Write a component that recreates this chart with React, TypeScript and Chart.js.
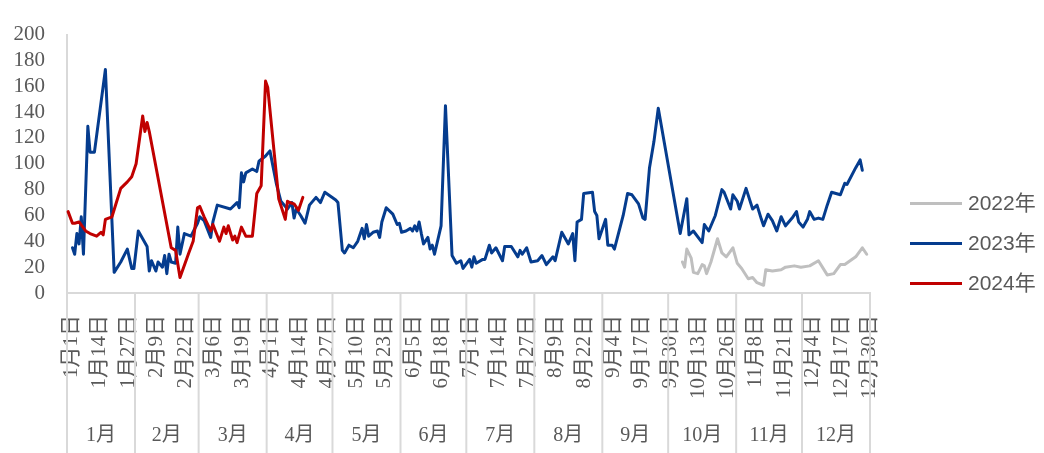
import React, { useEffect, useRef } from 'react';
import { Chart, registerables } from 'chart.js';

Chart.register(...registerables);

// ---- categories (2024 leap-year calendar, one category per day) ----
const monthNames = ['1月', '2月', '3月', '4月', '5月', '6月', '7月', '8月', '9月', '10月', '11月', '12月'];
const monthLengths = [31, 29, 31, 30, 31, 30, 31, 31, 30, 31, 30, 31];
const dayLabels: string[] = [];
monthLengths.forEach((len, m) => {
  for (let d = 1; d <= len; d++) dayLabels.push(`${m + 1}月${d}日`);
});
const tickEvery = 13; // a day label every 13 days: 1月1日, 1月14日, ...

// ---- y axis ----
const yMin = 0;
const yMax = 200;
const yStep = 20;

// ---- series ----
const seriesNames = ['2022年', '2023年', '2024年'];
const seriesColors = ['#BFBFBF', '#053C8E', '#C00000'];

const days2022 = [280, 281, 282, 284, 285, 287, 289, 290, 291, 293, 296, 298, 300, 303, 305, 307, 310, 312, 314, 317, 318, 321, 325, 327, 331, 334, 338, 342, 346, 349, 352, 354, 359, 362, 364];
const values2022 = [24, 20, 34, 27, 16, 15, 22, 21, 15, 24, 42, 31, 28, 35, 23, 19, 11, 12, 8, 6, 18, 17, 18, 20, 21, 20, 21, 25, 14, 15, 22, 22, 28, 35, 30];

const days2023 = [2, 3, 4, 5, 6, 7, 9, 10, 12, 17, 21, 24, 27, 29, 30, 32, 36, 37, 38, 40, 41, 43, 44, 45, 46, 47, 49, 50, 51, 53, 56, 59, 60, 62, 65, 66, 68, 74, 77, 78, 79, 80, 81, 84, 86, 87, 90, 92, 95, 97, 100, 102, 103, 104, 106, 108, 110, 113, 115, 117, 122, 123, 125, 126, 128, 130, 132, 134, 135, 136, 137, 139, 141, 142, 143, 145, 148, 150, 151, 152, 154, 156, 157, 158, 159, 160, 161, 162, 164, 165, 166, 167, 170, 172, 175, 177, 179, 180, 183, 184, 185, 186, 189, 190, 192, 193, 195, 198, 199, 202, 205, 206, 207, 209, 211, 214, 216, 218, 221, 222, 225, 227, 228, 230, 231, 232, 234, 235, 239, 240, 241, 242, 245, 246, 248, 249, 253, 255, 257, 260, 262, 263, 265, 267, 269, 279, 282, 283, 285, 289, 290, 292, 295, 298, 299, 302, 303, 305, 306, 309, 312, 314, 316, 317, 319, 321, 323, 325, 327, 330, 332, 333, 335, 337, 338, 340, 342, 344, 346, 348, 352, 354, 355, 359, 361, 362];
const values2023 = [35, 30, 46, 38, 59, 30, 129, 109, 109, 173, 16, 24, 34, 19, 19, 48, 36, 17, 25, 17, 24, 20, 29, 15, 30, 24, 23, 51, 30, 46, 44, 54, 59, 56, 43, 55, 68, 65, 70, 66, 93, 86, 93, 96, 94, 102, 106, 110, 84, 71, 65, 70, 58, 65, 60, 54, 68, 74, 70, 78, 72, 70, 33, 31, 37, 35, 40, 50, 42, 53, 44, 47, 48, 43, 55, 66, 61, 53, 54, 47, 48, 50, 48, 52, 48, 55, 46, 38, 43, 34, 37, 30, 52, 145, 29, 23, 25, 19, 26, 20, 28, 23, 26, 26, 37, 31, 35, 25, 36, 36, 28, 33, 30, 35, 24, 25, 29, 22, 28, 25, 47, 41, 38, 46, 25, 55, 57, 77, 78, 63, 60, 42, 57, 37, 37, 34, 60, 77, 76, 69, 58, 57, 97, 117, 143, 46, 73, 45, 48, 39, 53, 48, 60, 80, 78, 65, 76, 71, 65, 81, 65, 68, 57, 52, 61, 56, 48, 59, 52, 58, 63, 55, 51, 57, 63, 57, 58, 57, 68, 78, 76, 85, 84, 97, 103, 95];

const days2024 = [0, 2, 3, 5, 8, 10, 13, 15, 16, 17, 20, 22, 24, 27, 29, 31, 34, 35, 36, 37, 47, 49, 51, 55, 57, 59, 60, 62, 65, 66, 69, 71, 72, 73, 75, 76, 77, 79, 81, 84, 86, 88, 90, 91, 96, 99, 100, 101, 103, 105, 107];
const values2024 = [63, 54, 54, 55, 48, 46, 44, 47, 45, 57, 59, 70, 81, 86, 90, 100, 137, 125, 132, 125, 35, 33, 12, 31, 40, 66, 67, 59, 48, 53, 40, 51, 46, 52, 41, 44, 39, 51, 44, 44, 77, 83, 164, 159, 73, 57, 71, 70, 69, 64, 74];

const seriesDays = [days2022, days2023, days2024];
const seriesValues = [values2022, values2023, values2024];

// ---- styles ----
const textColor = '#595959';
const axisColor = '#D9D9D9';
const serifFamily = "'Liberation Serif', 'Times New Roman', 'Noto Sans CJK SC', serif";
const sansFamily = "'Liberation Sans', Arial, 'Noto Sans CJK SC', sans-serif";

const monthRowPlugin = {
  id: 'monthRow',
  afterDraw(chart: any) {
    const x = chart.scales.x;
    const ctx = chart.ctx;
    const top = chart.chartArea.bottom;
    const bottom = chart.height;
    const half = (x.getPixelForValue(1) - x.getPixelForValue(0)) / 2;
    ctx.save();
    ctx.strokeStyle = axisColor;
    ctx.lineWidth = 2;
    ctx.fillStyle = textColor;
    ctx.font = `20px ${serifFamily}`;
    ctx.textAlign = 'center';
    ctx.textBaseline = 'middle';
    let start = 0;
    monthLengths.forEach((len, m) => {
      const left = x.getPixelForValue(start) - half;
      const right = x.getPixelForValue(start + len - 1) + half;
      ctx.beginPath();
      ctx.moveTo(left, top);
      ctx.lineTo(left, bottom);
      if (m === monthLengths.length - 1) {
        ctx.moveTo(right, top);
        ctx.lineTo(right, bottom);
      }
      ctx.stroke();
      ctx.fillText(monthNames[m], (left + right) / 2, top + 143);
      start += len;
    });
    ctx.restore();
  },
};

const sideLegendPlugin = {
  id: 'sideLegend',
  afterDraw(chart: any) {
    const ctx = chart.ctx;
    const area = chart.chartArea;
    ctx.save();
    ctx.font = `21px ${sansFamily}`;
    ctx.textBaseline = 'middle';
    ctx.textAlign = 'left';
    chart.data.datasets.forEach((ds: any, i: number) => {
      const y = area.top + 169 + i * 40;
      const x0 = area.right + 40;
      ctx.strokeStyle = ds.borderColor;
      ctx.lineWidth = 3;
      ctx.beginPath();
      ctx.moveTo(x0, y);
      ctx.lineTo(x0 + 52, y);
      ctx.stroke();
      ctx.fillStyle = textColor;
      ctx.fillText(ds.label, x0 + 58, y + 1);
    });
    ctx.restore();
  },
};

export default function App() {
  const canvasRef = useRef<HTMLCanvasElement | null>(null);

  useEffect(() => {
    document.body.style.margin = '0';
    document.body.style.overflow = 'hidden';
    const canvas = canvasRef.current;
    if (!canvas) return;
    const drawOrder = [2, 1, 0];
    const chart = new Chart(canvas, {
      type: 'line',
      data: {
        labels: dayLabels,
        datasets: seriesNames.map((name, s) => ({
          label: name,
          data: seriesDays[s].map((d, i) => ({ x: dayLabels[d], y: seriesValues[s][i] })),
          borderColor: seriesColors[s],
          backgroundColor: seriesColors[s],
          borderWidth: 3,
          pointRadius: 0,
          pointHoverRadius: 0,
          tension: 0,
          spanGaps: true,
          borderJoinStyle: 'round',
          borderCapStyle: 'round',
          order: drawOrder[s],
        })),
      },
      options: {
        animation: false,
        responsive: true,
        maintainAspectRatio: false,
        events: [],
        layout: { padding: { top: 18, right: 174, left: 0, bottom: 0 } },
        plugins: { legend: { display: false }, tooltip: { enabled: false } },
        scales: {
          x: {
            type: 'category',
            offset: true,
            grid: { display: false, drawTicks: false },
            border: { display: true, color: axisColor, width: 2 },
            ticks: {
              autoSkip: false,
              minRotation: 90,
              maxRotation: 90,
              padding: 22,
              labelOffset: 3,
              color: textColor,
              font: { family: serifFamily, size: 21 },
            },
            afterBuildTicks: (scale: any) => {
              scale.ticks = scale.ticks.filter((t: any) => t.value % tickEvery === 0);
            },
            afterFit: (scale: any) => {
              scale.height = 160;
            },
          },
          y: {
            min: yMin,
            max: yMax,
            grid: { display: false, drawTicks: false },
            border: { display: true, color: axisColor, width: 2 },
            ticks: {
              stepSize: yStep,
              autoSkip: false,
              padding: 22,
              color: textColor,
              font: { family: serifFamily, size: 21 },
            },
            afterFit: (scale: any) => {
              scale.width = 67;
            },
          },
        },
      },
      plugins: [monthRowPlugin, sideLegendPlugin],
    } as any);
    return () => chart.destroy();
  }, []);

  return (
    <div style={{ position: 'relative', width: 1044, height: 453 }}>
      <canvas ref={canvasRef} />
    </div>
  );
}
